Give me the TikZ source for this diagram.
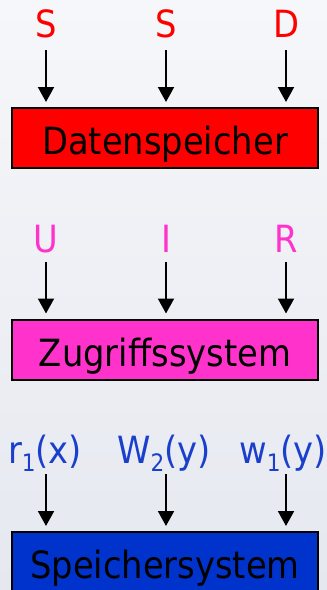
\documentclass[tikz,border=0pt]{standalone}
\usepackage{fontspec}
\setmainfont[FakeStretch=0.9]{DejaVu Sans}
\usetikzlibrary{arrows.meta}
\definecolor{bgtop}{HTML}{F6F7FA}
\definecolor{bgbot}{HTML}{E5E8EF}
\definecolor{lred}{HTML}{FF0000}
\definecolor{lpink}{HTML}{FF33CC}
\definecolor{lblue}{HTML}{1A3FCC}
\definecolor{bblue}{HTML}{0033CC}
\newcommand{\bigfont}{\fontsize{37.5}{40}\selectfont}
\newcommand{\sbs}[1]{\raisebox{-0.22em}{\fontsize{24}{24}\selectfont #1}}
\begin{document}
\begin{tikzpicture}[x=1pt,y=-1pt,
  lbl/.style={anchor=base,inner sep=0pt,font=\bigfont},
  sysbox/.style={draw=black,line width=2pt,minimum width=306pt,minimum height=60pt,inner sep=0pt,font=\bigfont,text=black},
  arr/.style={line width=2pt,-{Triangle[width=16pt,length=15pt]},shorten >=5pt}]
\useasboundingbox (0,0) rectangle (327,590);
\shade[top color=bgtop,bottom color=bgbot] (0,0) rectangle (327,590);
\begin{scope}
\clip (0,0) rectangle (327,590);
% row 1
\node[lbl,text=lred] (s1) at (46,37) {S};
\node[lbl,text=lred] (s2) at (166,37) {S};
\node[lbl,text=lred] (d1) at (286,37) {D};
\node[sysbox,fill=lred] (b1) at (165,138) {};
\node[lbl] (t1) at (165,154) {Datenspeicher};
\coordinate (c11) at (46,50);
\coordinate (c12) at (166,50);
\coordinate (c13) at (286,50);
\draw[arr] (c11) -- (c11 |- b1.north);
\draw[arr] (c12) -- (c12 |- b1.north);
\draw[arr] (c13) -- (c13 |- b1.north);
% row 2
\node[lbl,text=lpink] (u1) at (46,252) {U};
\node[lbl,text=lpink] (i1) at (166,252) {I};
\node[lbl,text=lpink] (r1) at (286,252) {R};
\node[sysbox,fill=lpink] (b2) at (165,349.5) {};
\node[lbl] (t2) at (165,366) {Zugriffssystem};
\coordinate (c21) at (46,262);
\coordinate (c22) at (166,262);
\coordinate (c23) at (286,262);
\draw[arr] (c21) -- (c21 |- b2.north);
\draw[arr] (c22) -- (c22 |- b2.north);
\draw[arr] (c23) -- (c23 |- b2.north);
% row 3
\node[lbl,text=lblue] (o1) at (45,463) {r\sbs{1}(x)};
\node[lbl,text=lblue] (o2) at (164,463) {W\sbs{2}(y)};
\node[lbl,text=lblue] (o3) at (283,463) {w\sbs{1}(y)};
\node[sysbox,fill=bblue] (b3) at (165,562) {};
\node[lbl] (t3) at (165,578) {Speichersystem};
\coordinate (c31) at (46,474);
\coordinate (c32) at (166,474);
\coordinate (c33) at (286,474);
\draw[arr] (c31) -- (c31 |- b3.north);
\draw[arr] (c32) -- (c32 |- b3.north);
\draw[arr] (c33) -- (c33 |- b3.north);
\end{scope}
\end{tikzpicture}
\end{document}
